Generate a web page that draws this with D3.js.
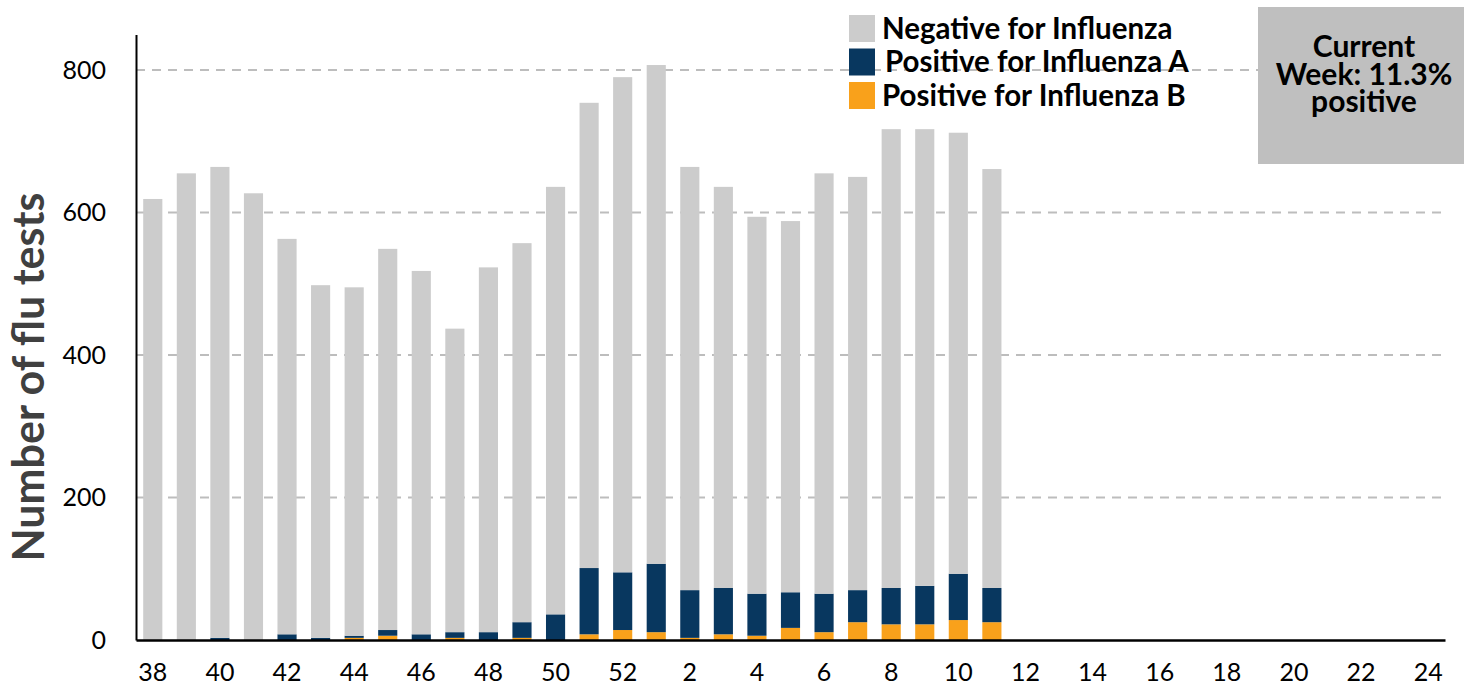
<!DOCTYPE html>
<html>
<head>
<meta charset="utf-8">
<script src="https://cdn.jsdelivr.net/npm/d3@7"></script>
<style>
  html, body { margin: 0; padding: 0; background: #fff; }
  svg { display: block; font-family: Lato, "Open Sans", sans-serif; }
</style>
</head>
<body>
<svg id="chart" width="1471" height="686"></svg>
<script>
// ---- Data ----
const weeks = ["38","39","40","41","42","43","44","45","46","47","48","49","50","51","52",
  "1","2","3","4","5","6","7","8","9","10","11","12","13","14","15","16","17","18","19","20","21","22","23","24"];
const negative = [619,655,661,627,555,495,489,535,510,426,512,532,600,653,695,700,594,563,529,521,590,580,644,641,619,588];
const positiveA = [0,0,3,0,8,3,3,8,8,8,11,22,36,93,81,96,67,65,59,50,54,45,51,54,65,48];
const positiveB = [0,0,0,0,0,0,3,6,0,3,0,3,0,8,14,11,3,8,6,17,11,25,22,22,28,25];
const yTicks = [0,200,400,600,800];
const seriesNames = ["Negative for Influenza","Positive for Influenza A","Positive for Influenza B"];
const seriesColors = ["#cccccc","#08375f","#f9a11b"];
const boxLines = ["Current","Week: 11.3%","positive"];

// ---- Layout ----
const svg = d3.select("#chart");
const mLeft = 136, mRight = 1445, mBottom = 640, mTop = 34.4;

const x = d3.scaleBand().domain(weeks).range([mLeft, mRight]).paddingInner(0.43).paddingOuter(0.215);
const y = d3.scaleLinear().domain([0, 850]).range([mBottom, mTop]);

// gridlines
svg.append("g").selectAll("line").data(yTicks.filter(d => d > 0)).join("line")
  .attr("x1", mLeft).attr("x2", mRight)
  .attr("y1", d => y(d)).attr("y2", d => y(d))
  .attr("stroke", "#bdbdbd").attr("stroke-width", 2).attr("stroke-dasharray", "9,7");

// stacked data
const rows = negative.map((n, i) => ({week: weeks[i], B: positiveB[i], A: positiveA[i], N: n}));
const stack = d3.stack().keys(["B","A","N"])(rows);
const colorByKey = {B: seriesColors[2], A: seriesColors[1], N: seriesColors[0]};

svg.append("g").selectAll("g").data(stack).join("g")
  .attr("fill", d => colorByKey[d.key])
  .selectAll("rect").data(d => d).join("rect")
  .attr("x", d => x(d.data.week))
  .attr("width", x.bandwidth())
  .attr("y", d => y(d[1]))
  .attr("height", d => y(d[0]) - y(d[1]));

// axes
const yAxis = svg.append("g").attr("transform", `translate(${mLeft},0)`)
  .call(d3.axisLeft(y).tickValues(yTicks).tickSize(0).tickPadding(30).tickFormat(d3.format("d")));
yAxis.select(".domain").attr("stroke", "#000").attr("stroke-width", 2);
yAxis.selectAll("text").attr("font-size", 25).attr("fill", "#000").attr("font-family", "Lato");

const xAxis = svg.append("g").attr("transform", `translate(0,${mBottom})`)
  .call(d3.axisBottom(x).tickValues(weeks.filter(w => +w % 2 === 0)).tickSize(0).tickPadding(23));
xAxis.select(".domain").attr("stroke", "#000").attr("stroke-width", 2.5);
xAxis.selectAll("text").attr("font-size", 25).attr("fill", "#000").attr("font-family", "Lato");

// y title
svg.append("text")
  .attr("transform", `translate(44,377) rotate(-90)`)
  .attr("text-anchor", "middle")
  .attr("font-size", 43).attr("font-weight", "bold").attr("fill", "#404040")
  .text("Number of flu tests");

// legend
const leg = svg.append("g");
seriesNames.forEach((name, i) => {
  const yy = 15 + i * 33.5;
  leg.append("rect").attr("x", 849).attr("y", yy).attr("width", 26).attr("height", 27).attr("fill", seriesColors[i]);
  leg.append("text").attr("x", i === 1 ? 885 : 882).attr("y", yy + 23.5)
    .attr("font-size", 29.5).attr("font-weight", "bold").attr("fill", "#000").text(name);
});

// current week box
svg.append("rect").attr("x", 1258).attr("y", 7).attr("width", 206).attr("height", 157).attr("fill", "#bfbfbf");
svg.append("g").selectAll("text").data(boxLines).join("text")
  .attr("x", 1364).attr("y", (d, i) => 57 + i * 27.5)
  .attr("text-anchor", "middle").attr("font-size", 30).attr("font-weight", "bold").attr("fill", "#000")
  .text(d => d);
</script>
</body>
</html>
